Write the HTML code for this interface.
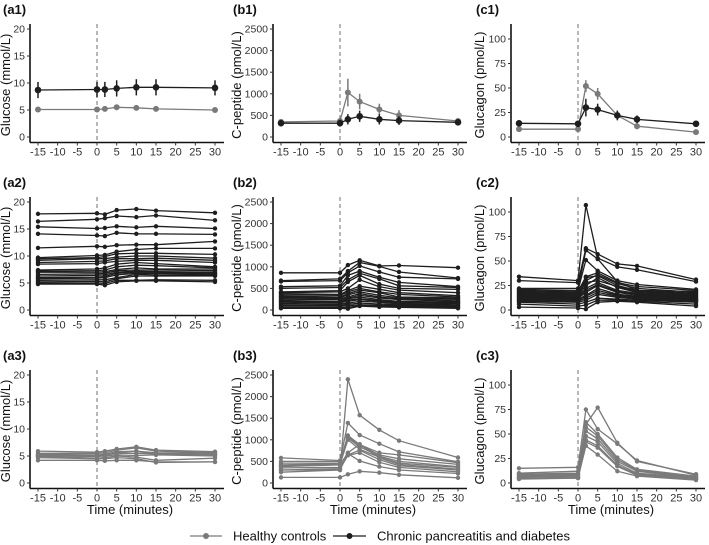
<!DOCTYPE html>
<html><head><meta charset="utf-8"><style>
body{margin:0;background:#fff;}
svg{display:block;font-family:"Liberation Sans",Arial,sans-serif;}
</style></head><body>
<svg id="c" width="709" height="545" viewBox="0 0 709 545"></svg>
<script>
const times=[-15,0,2,5,10,15,30];
const xTicks=[-15,-10,-5,0,5,10,15,20,25,30];
const glucoseTicks=[0,5,10,15,20];
const cpepTicks=[0,500,1000,1500,2000,2500];
const glucagonTicks=[0,25,50,75,100];
// Row 1 means and errors
const a1Healthy=[5.1,5.1,5.2,5.5,5.4,5.2,5.0];
const a1HealthyErr=[0.3,0.3,0.3,0.3,0.3,0.3,0.3];
const a1CP=[8.7,8.8,8.8,9.0,9.2,9.2,9.1];
const a1CPErr=[1.5,1.4,1.4,1.5,1.5,1.5,1.4];
const b1Healthy=[350,370,1030,820,640,500,370];
const b1HealthyErr=[60,80,320,180,130,120,50];
const b1CP=[320,320,410,480,410,380,340];
const b1CPErr=[70,80,120,130,120,100,70];
const c1Healthy=[8,8,52,44,22,11,5];
const c1HealthyErr=[2,3,6,6,4,3,1];
const c1CP=[14,13.5,30,28,22,18,13.5];
const c1CPErr=[3,3,9,6,5,4,3];
// Row 2 individual CP
const a2Lines=[[17.8,17.9,17.7,18.5,18.7,18.4,18.0],[16.4,16.8,17.0,17.4,17.2,17.5,16.6],[15.4,15.1,15.2,15.5,15.3,15.5,15.1],[14.1,13.8,13.7,14.3,14.1,14.1,14.0],[11.5,11.8,11.7,12.0,12.1,12.1,12.7],[9.7,10.1,10.2,10.8,11.2,11.4,11.4],[9.5,9.7,9.9,10.4,10.5,10.5,10.3],[9.2,9.5,9.5,9.8,10.0,10.0,9.6],[8.8,9.0,9.1,9.5,9.5,9.6,9.2],[8.5,8.6,8.8,9.0,9.2,9.2,8.8],[7.4,7.6,7.8,8.5,8.8,8.6,8.0],[7.2,7.3,7.4,8.0,8.3,8.2,7.8],[7.0,7.0,7.1,7.5,7.8,7.6,7.6],[6.6,6.7,6.8,7.3,7.4,7.4,7.3],[6.3,6.4,6.5,7.0,7.2,7.1,7.0],[6.0,6.1,6.2,6.8,7.0,7.0,6.8],[5.8,5.9,6.0,6.5,6.8,6.8,6.6],[5.5,5.6,5.6,6.0,6.6,6.5,6.5],[5.2,5.3,5.2,5.8,6.3,6.3,6.3],[5.0,5.0,4.9,5.5,5.5,5.6,5.5],[4.8,4.8,4.6,5.2,5.4,5.4,5.2]];
const b2Lines=[[860,860,1040,1150,1020,1030,980],[680,720,900,1100,1010,880,740],[660,680,860,1020,880,760,720],[540,560,800,900,760,640,540],[500,520,700,850,720,560,520],[420,450,650,800,600,500,480],[400,420,500,700,540,460,400],[380,360,450,550,480,400,330],[350,340,420,500,420,360,300],[320,300,380,460,400,300,280],[300,280,350,420,340,280,260],[280,260,300,380,300,260,230],[250,240,270,340,280,240,200],[220,200,260,300,240,200,180],[200,190,230,260,220,180,160],[180,170,200,240,200,160,150],[150,140,160,200,180,140,120],[120,110,130,160,140,120,100],[90,90,100,120,110,100,80],[60,60,60,100,90,80,60],[40,40,30,90,70,60,40]];
const c2Lines=[[34,30,107,53,44,41,29],[30,28,63,57,47,45,31],[22,22,61,52,29,20,19],[21,20,51,40,30,26,21],[20,19,34,38,28,24,20],[19,18,30,36,27,22,18],[18,17,33,35,25,20,17],[17,16,28,30,24,19,16],[16,15,25,33,23,18,15],[15,14,22,28,20,17,14],[14,13,20,26,19,16,13],[13,12,18,25,18,15,12],[12,11,15,22,16,14,11],[11,10,14,20,15,13,10],[10,9,12,18,14,12,10],[9,8,10,16,13,11,9],[8,6,8,12,11,10,8],[6,4,5,10,10,9,6],[3,2,1,8,9,8,4]];
// Row 3 individual healthy
const a3Lines=[[5.9,5.7,5.9,6.3,6.7,6.1,5.8],[5.5,5.5,5.6,6.1,6.5,5.9,5.6],[5.3,5.2,5.3,5.8,5.9,5.6,5.5],[5.1,5.0,5.2,5.5,5.5,5.4,5.3],[5.0,4.9,5.0,5.2,5.1,5.2,5.0],[4.9,4.6,4.7,5.0,4.8,4.2,4.6],[4.7,4.5,4.5,4.7,4.5,3.8,3.9],[4.2,4.2,4.1,4.2,4.2,3.9,3.9],[5.2,5.1,5.3,5.6,5.9,5.3,5.2]];
const b3Lines=[[300,300,2400,1570,1230,980,590],[580,520,1390,1110,910,720,490],[500,500,1100,890,700,650,470],[460,460,1060,880,650,560,430],[420,450,1040,840,620,500,380],[400,430,1000,780,600,460,360],[380,420,700,900,580,430,320],[350,360,650,760,540,400,300],[300,330,640,700,480,360,260],[250,300,680,510,380,300,220],[130,130,200,270,240,190,120]];
const c3Lines=[[15,16,75,55,40,23,8],[10,12,60,77,41,22,9],[9,10,62,50,26,14,7],[8,9,57,48,24,13,6],[7,8,53,45,22,12,5],[6,7,48,42,20,10,5],[5,6,44,38,18,9,4],[5,5,42,36,17,8,4],[4,5,38,29,12,7,3]];

const GRAY='#7a7a7a', BLACK='#1e1e1e';
const NS='http://www.w3.org/2000/svg';
const svg=document.getElementById('c');
function mk(tag,attrs,parent){const e=document.createElementNS(NS,tag);for(const k in attrs)e.setAttribute(k,attrs[k]);(parent||svg).appendChild(e);return e;}
const colX={a:30,b:273,c:511};
const rowY={1:137,2:310,3:483};
const yMax={a:20,b:2500,c:110.2};
const yTitle={a:'Glucose (mmol/L)',b:'C-peptide (pmol/L)',c:'Glucagon (pmol/L)'};
const yTicksFor={a:glucoseTicks,b:cpepTicks,c:glucagonTicks};
const titleX={a:10,b:241,c:484};
function xs(col,t){return colX[col]+8+(t+15)*177/45;}
function ys(col,row,v){return rowY[row]-v*108/yMax[col];}

function panel(col,row,name){
  const g=mk('g',{});
  
  
  const x0=colX[col],y0=rowY[row];
  const lab=mk('text',{x:x0-27+(col==='a'?0:(col==='b'?-13:-8)),y:y0-123,'font-size':13,'font-weight':'bold',fill:'#111'},g);
  lab.textContent='('+name+')';
  
  
  const ya=mk('line',{x1:x0,y1:y0-113,x2:x0,y2:y0+5.5,stroke:'#111','stroke-width':1.6},g);
  
  
  const xa=mk('line',{x1:x0,y1:y0+5.5,x2:x0+194,y2:y0+5.5,stroke:'#111','stroke-width':1.6},g);
  
  
  yTicksFor[col].forEach(v=>{const y=ys(col,row,v);
    mk('line',{x1:x0-3,y1:y,x2:x0,y2:y,stroke:'#333','stroke-width':1},g);
    const t=mk('text',{x:x0-5,y:y+3.5,'font-size':10.5,'text-anchor':'end',fill:'#333'},g);t.textContent=v;
    
    });
  xTicks.forEach(v=>{const x=xs(col,v);
    mk('line',{x1:x,y1:y0+5.5,x2:x,y2:y0+8.5,stroke:'#333','stroke-width':1},g);
    const t=mk('text',{x:x,y:y0+18.5,'font-size':11,'text-anchor':'middle',fill:'#333'},g);t.textContent=v;
    
    });
  const tx=titleX[col], ty=y0-52;
  const tt=mk('text',{x:tx,y:ty,'font-size':13,'text-anchor':'middle',fill:'#111',transform:`rotate(-90 ${tx} ${ty})`},g);
  tt.textContent=yTitle[col];
  
  
  const dl=mk('line',{x1:xs(col,0),y1:y0-113,x2:xs(col,0),y2:y0+5.5,stroke:'#888','stroke-width':1.2,'stroke-dasharray':'4,3'},g);
  
  
  if(row===3){const t=mk('text',{x:x0+100,y:y0+31,'font-size':13,'text-anchor':'middle',fill:'#111'},g);t.textContent='Time (minutes)';
    
    }
  return g;
}
function series(g,col,row,vals,color,errs,r,sw,nm){
  const pts=vals.map((v,i)=>xs(col,times[i]).toFixed(1)+','+ys(col,row,v).toFixed(1)).join(' ');
  const pl=mk('polyline',{points:pts,fill:'none',stroke:color,'stroke-width':sw},g);
  
  
  vals.forEach((v,i)=>{const x=xs(col,times[i]);
    if(errs){const e=mk('line',{x1:x,y1:ys(col,row,v-errs[i]),x2:x,y2:ys(col,row,v+errs[i]),stroke:color,'stroke-width':1.5},g);
      
      }
    const c=mk('circle',{cx:x,cy:ys(col,row,v),r:r,fill:color},g);
    
    });
}
let g;
g=panel('a',1,'a1');series(g,'a',1,a1Healthy,GRAY,a1HealthyErr,3,1.3,'healthy-mean');series(g,'a',1,a1CP,BLACK,a1CPErr,3.3,1.3,'cp-mean');
g=panel('b',1,'b1');series(g,'b',1,b1Healthy,GRAY,b1HealthyErr,3,1.3,'healthy-mean');series(g,'b',1,b1CP,BLACK,b1CPErr,3.3,1.3,'cp-mean');
g=panel('c',1,'c1');series(g,'c',1,c1Healthy,GRAY,c1HealthyErr,3,1.3,'healthy-mean');series(g,'c',1,c1CP,BLACK,c1CPErr,3.3,1.3,'cp-mean');
g=panel('a',2,'a2');a2Lines.forEach(s=>series(g,'a',2,s,BLACK,null,2.2,1.3,'cp-individual'));
g=panel('b',2,'b2');b2Lines.forEach(s=>series(g,'b',2,s,BLACK,null,2.2,1.3,'cp-individual'));
g=panel('c',2,'c2');c2Lines.forEach(s=>series(g,'c',2,s,BLACK,null,2.2,1.3,'cp-individual'));
g=panel('a',3,'a3');a3Lines.forEach(s=>series(g,'a',3,s,GRAY,null,2.2,1.3,'healthy-individual'));
g=panel('b',3,'b3');b3Lines.forEach(s=>series(g,'b',3,s,GRAY,null,2.2,1.3,'healthy-individual'));
g=panel('c',3,'c3');c3Lines.forEach(s=>series(g,'c',3,s,GRAY,null,2.2,1.3,'healthy-individual'));
// legend
const lg=mk('g',{});


function legendEntry(x1,x2,tx,color,label,nm){
  const e=mk('g',{},lg);
  
  
  mk('line',{x1:x1,y1:536,x2:x2,y2:536,stroke:color,'stroke-width':1.3},e);
  mk('circle',{cx:(x1+x2)/2,cy:536,r:3,fill:color},e);
  const t=mk('text',{x:tx,y:540.5,'font-size':13,fill:'#111'},e);t.textContent=label;
}
legendEntry(190,222,233,GRAY,'Healthy controls','legend-entry-healthy');
legendEntry(333,366,377,BLACK,'Chronic pancreatitis and diabetes','legend-entry-cp');
</script>
</body></html>
